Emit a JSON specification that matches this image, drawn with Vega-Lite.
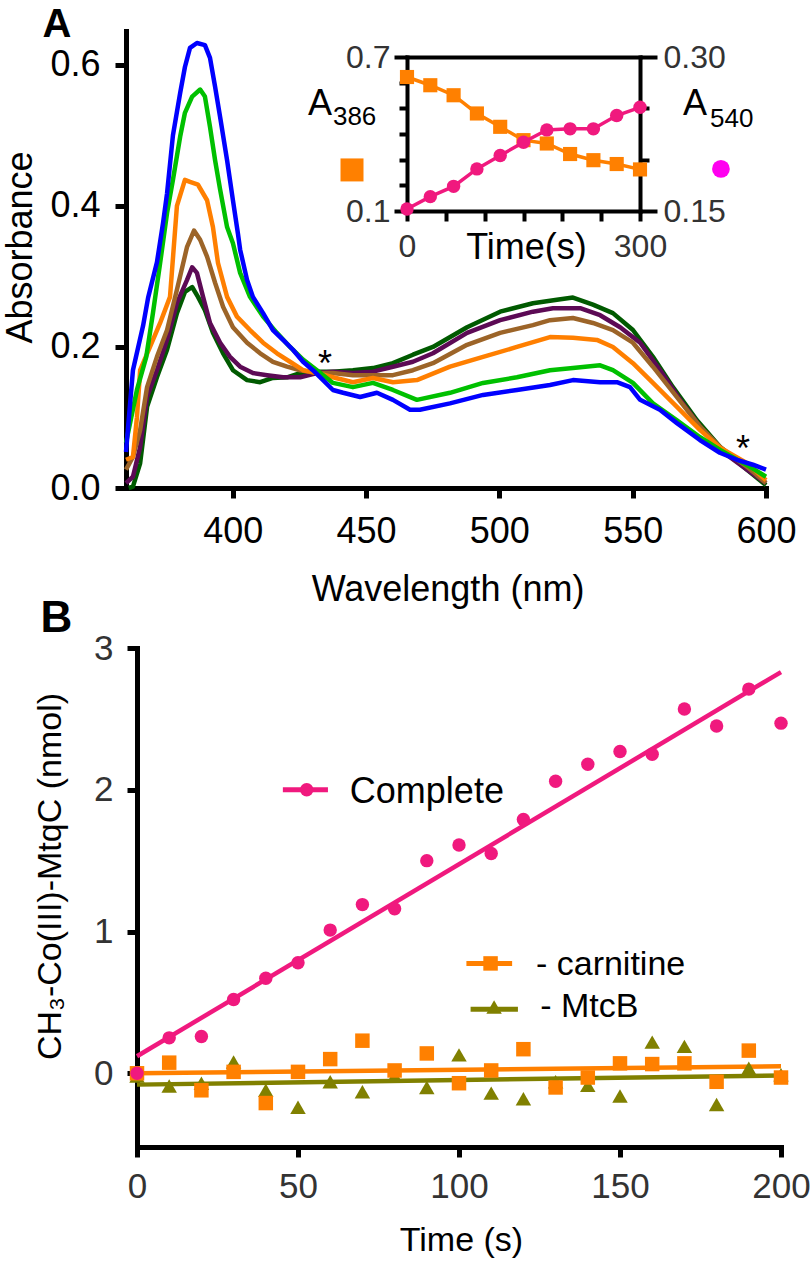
{
"$schema": "https://vega.github.io/schema/vega-lite/v6.json",
"width": 640,
"height": 457,
"autosize": {"type": "none"},
"padding": {"left": 126, "top": 31, "right": 46, "bottom": 776},
"background": "white",
"config": {
  "view": {"stroke": null},
  "font": "Liberation Sans",
  "axis": {"grid": false, "domainColor": "black", "tickColor": "black", "labelFont": "Liberation Sans", "titleFont": "Liberation Sans", "titleFontWeight": "normal", "titleColor": "black", "labelFlush": false, "labelOverlap": false, "labelBound": false, "domainCap": "square"},
  "text": {"font": "Liberation Sans"}
},
"datasets": {
  "spectra": [
    {"s":"dg","w":361,"a":0.0},{"s":"dg","w":362.6,"a":0.002},{"s":"dg","w":365.3,"a":0.035},{"s":"dg","w":367.9,"a":0.115},{"s":"dg","w":371.6,"a":0.157},{"s":"dg","w":375.4,"a":0.196},{"s":"dg","w":379.1,"a":0.248},{"s":"dg","w":382.1,"a":0.278},{"s":"dg","w":384.8,"a":0.285},{"s":"dg","w":387,"a":0.271},{"s":"dg","w":389.6,"a":0.252},{"s":"dg","w":392.6,"a":0.22},{"s":"dg","w":396.4,"a":0.191},{"s":"dg","w":400.1,"a":0.167},{"s":"dg","w":405.4,"a":0.153},{"s":"dg","w":410.3,"a":0.15},{"s":"dg","w":415.1,"a":0.156},{"s":"dg","w":420.4,"a":0.157},{"s":"dg","w":425.3,"a":0.163},{"s":"dg","w":431.6,"a":0.165},{"s":"dg","w":437.6,"a":0.165},{"s":"dg","w":445.1,"a":0.167},{"s":"dg","w":452.6,"a":0.17},{"s":"dg","w":460.1,"a":0.177},{"s":"dg","w":467.6,"a":0.189},{"s":"dg","w":475.1,"a":0.2},{"s":"dg","w":487.9,"a":0.228},{"s":"dg","w":500.3,"a":0.25},{"s":"dg","w":512.6,"a":0.262},{"s":"dg","w":521.6,"a":0.267},{"s":"dg","w":527.6,"a":0.27},{"s":"dg","w":535.1,"a":0.26},{"s":"dg","w":542.6,"a":0.248},{"s":"dg","w":550.1,"a":0.224},{"s":"dg","w":557.6,"a":0.186},{"s":"dg","w":565.1,"a":0.143},{"s":"dg","w":574.1,"a":0.096},{"s":"dg","w":582.8,"a":0.058},{"s":"dg","w":592.9,"a":0.026},{"s":"dg","w":600,"a":0.004},
    {"s":"pu","w":360,"a":0.007},{"s":"pu","w":362.6,"a":0.016},{"s":"pu","w":365.3,"a":0.058},{"s":"pu","w":367.9,"a":0.129},{"s":"pu","w":371.6,"a":0.167},{"s":"pu","w":375.4,"a":0.21},{"s":"pu","w":379.1,"a":0.262},{"s":"pu","w":382.9,"a":0.295},{"s":"pu","w":384.8,"a":0.313},{"s":"pu","w":386.6,"a":0.305},{"s":"pu","w":388.9,"a":0.271},{"s":"pu","w":391.5,"a":0.234},{"s":"pu","w":395.3,"a":0.206},{"s":"pu","w":399,"a":0.186},{"s":"pu","w":402.8,"a":0.172},{"s":"pu","w":407.6,"a":0.163},{"s":"pu","w":412.9,"a":0.16},{"s":"pu","w":418.9,"a":0.157},{"s":"pu","w":425.3,"a":0.157},{"s":"pu","w":431.6,"a":0.163},{"s":"pu","w":437.6,"a":0.165},{"s":"pu","w":445.1,"a":0.163},{"s":"pu","w":452.6,"a":0.165},{"s":"pu","w":460.1,"a":0.172},{"s":"pu","w":467.6,"a":0.179},{"s":"pu","w":475.1,"a":0.191},{"s":"pu","w":487.9,"a":0.22},{"s":"pu","w":500.3,"a":0.238},{"s":"pu","w":512.6,"a":0.25},{"s":"pu","w":520.1,"a":0.255},{"s":"pu","w":530.3,"a":0.255},{"s":"pu","w":537.8,"a":0.245},{"s":"pu","w":545.3,"a":0.228},{"s":"pu","w":552.8,"a":0.206},{"s":"pu","w":560.3,"a":0.167},{"s":"pu","w":567.8,"a":0.125},{"s":"pu","w":575.3,"a":0.087},{"s":"pu","w":582.8,"a":0.054},{"s":"pu","w":592.9,"a":0.026},{"s":"pu","w":600,"a":0.007},
    {"s":"br","w":360,"a":0.026},{"s":"br","w":362.6,"a":0.044},{"s":"br","w":365.3,"a":0.082},{"s":"br","w":367.9,"a":0.143},{"s":"br","w":371.6,"a":0.186},{"s":"br","w":375.4,"a":0.224},{"s":"br","w":379.1,"a":0.281},{"s":"br","w":382.9,"a":0.342},{"s":"br","w":385.5,"a":0.365},{"s":"br","w":387.8,"a":0.352},{"s":"br","w":390.4,"a":0.328},{"s":"br","w":393.4,"a":0.291},{"s":"br","w":396.4,"a":0.257},{"s":"br","w":400.1,"a":0.228},{"s":"br","w":405.4,"a":0.206},{"s":"br","w":410.3,"a":0.191},{"s":"br","w":415.1,"a":0.179},{"s":"br","w":420.4,"a":0.172},{"s":"br","w":425.3,"a":0.167},{"s":"br","w":431.6,"a":0.163},{"s":"br","w":437.6,"a":0.163},{"s":"br","w":445.1,"a":0.16},{"s":"br","w":452.6,"a":0.16},{"s":"br","w":460.1,"a":0.16},{"s":"br","w":467.6,"a":0.167},{"s":"br","w":475.1,"a":0.177},{"s":"br","w":487.9,"a":0.203},{"s":"br","w":500.3,"a":0.22},{"s":"br","w":512.6,"a":0.231},{"s":"br","w":519,"a":0.238},{"s":"br","w":527.6,"a":0.241},{"s":"br","w":535.1,"a":0.234},{"s":"br","w":542.6,"a":0.224},{"s":"br","w":550.1,"a":0.206},{"s":"br","w":557.6,"a":0.172},{"s":"br","w":566.6,"a":0.129},{"s":"br","w":575.3,"a":0.087},{"s":"br","w":582.8,"a":0.058},{"s":"br","w":592.9,"a":0.03},{"s":"br","w":600,"a":0.007},
    {"s":"or","w":360,"a":0.04},{"s":"or","w":362.6,"a":0.044},{"s":"or","w":364.1,"a":0.1},{"s":"or","w":365.3,"a":0.167},{"s":"or","w":369,"a":0.2},{"s":"or","w":372.8,"a":0.234},{"s":"or","w":376.5,"a":0.271},{"s":"or","w":379.1,"a":0.4},{"s":"or","w":382.1,"a":0.437},{"s":"or","w":384,"a":0.434},{"s":"or","w":387,"a":0.43},{"s":"or","w":390.4,"a":0.408},{"s":"or","w":392.6,"a":0.37},{"s":"or","w":394.5,"a":0.319},{"s":"or","w":397.9,"a":0.271},{"s":"or","w":401.6,"a":0.243},{"s":"or","w":406.5,"a":0.224},{"s":"or","w":411.4,"a":0.206},{"s":"or","w":416.6,"a":0.191},{"s":"or","w":421.5,"a":0.179},{"s":"or","w":426.4,"a":0.167},{"s":"or","w":431.6,"a":0.163},{"s":"or","w":437.6,"a":0.157},{"s":"or","w":445.1,"a":0.15},{"s":"or","w":452.6,"a":0.156},{"s":"or","w":460.1,"a":0.15},{"s":"or","w":469.1,"a":0.153},{"s":"or","w":481.5,"a":0.172},{"s":"or","w":493.9,"a":0.186},{"s":"or","w":506.6,"a":0.2},{"s":"or","w":519,"a":0.214},{"s":"or","w":527.6,"a":0.213},{"s":"or","w":536.6,"a":0.21},{"s":"or","w":542.6,"a":0.2},{"s":"or","w":550.1,"a":0.177},{"s":"or","w":557.6,"a":0.149},{"s":"or","w":566.6,"a":0.115},{"s":"or","w":575.3,"a":0.082},{"s":"or","w":582.8,"a":0.057},{"s":"or","w":592.9,"a":0.035},{"s":"or","w":600,"a":0.011},
    {"s":"gr","w":360,"a":0.064},{"s":"gr","w":364.1,"a":0.139},{"s":"gr","w":367.6,"a":0.186},{"s":"gr","w":370.1,"a":0.248},{"s":"gr","w":372.8,"a":0.319},{"s":"gr","w":375.4,"a":0.39},{"s":"gr","w":377.6,"a":0.437},{"s":"gr","w":380.3,"a":0.498},{"s":"gr","w":382.1,"a":0.532},{"s":"gr","w":384.8,"a":0.555},{"s":"gr","w":387.8,"a":0.565},{"s":"gr","w":389.6,"a":0.555},{"s":"gr","w":391.5,"a":0.512},{"s":"gr","w":393.4,"a":0.465},{"s":"gr","w":395.3,"a":0.423},{"s":"gr","w":397.9,"a":0.37},{"s":"gr","w":400.1,"a":0.347},{"s":"gr","w":402.8,"a":0.305},{"s":"gr","w":406.5,"a":0.271},{"s":"gr","w":411.4,"a":0.243},{"s":"gr","w":416.6,"a":0.22},{"s":"gr","w":421.5,"a":0.2},{"s":"gr","w":426.4,"a":0.182},{"s":"gr","w":431.6,"a":0.167},{"s":"gr","w":437.6,"a":0.149},{"s":"gr","w":445.1,"a":0.143},{"s":"gr","w":452.6,"a":0.149},{"s":"gr","w":460.1,"a":0.139},{"s":"gr","w":469.1,"a":0.125},{"s":"gr","w":481.5,"a":0.135},{"s":"gr","w":493.9,"a":0.149},{"s":"gr","w":506.6,"a":0.157},{"s":"gr","w":519,"a":0.167},{"s":"gr","w":527.6,"a":0.17},{"s":"gr","w":537.8,"a":0.174},{"s":"gr","w":542.6,"a":0.167},{"s":"gr","w":550.1,"a":0.149},{"s":"gr","w":557.6,"a":0.12},{"s":"gr","w":566.6,"a":0.096},{"s":"gr","w":575.3,"a":0.072},{"s":"gr","w":582.8,"a":0.054},{"s":"gr","w":594,"a":0.03},{"s":"gr","w":600,"a":0.016},
    {"s":"bl","w":360,"a":0.051},{"s":"bl","w":362.6,"a":0.167},{"s":"bl","w":366.4,"a":0.23},{"s":"bl","w":368.3,"a":0.27},{"s":"bl","w":371.6,"a":0.32},{"s":"bl","w":373.9,"a":0.376},{"s":"bl","w":375.4,"a":0.418},{"s":"bl","w":377.6,"a":0.5},{"s":"bl","w":380.3,"a":0.56},{"s":"bl","w":382.1,"a":0.597},{"s":"bl","w":384,"a":0.624},{"s":"bl","w":386.6,"a":0.631},{"s":"bl","w":389.6,"a":0.628},{"s":"bl","w":391.5,"a":0.61},{"s":"bl","w":393.4,"a":0.569},{"s":"bl","w":395.3,"a":0.526},{"s":"bl","w":397.9,"a":0.465},{"s":"bl","w":400.1,"a":0.408},{"s":"bl","w":402,"a":0.36},{"s":"bl","w":402.8,"a":0.338},{"s":"bl","w":405.4,"a":0.295},{"s":"bl","w":407.6,"a":0.271},{"s":"bl","w":411.4,"a":0.248},{"s":"bl","w":415.1,"a":0.224},{"s":"bl","w":418.9,"a":0.21},{"s":"bl","w":422.6,"a":0.196},{"s":"bl","w":426.4,"a":0.179},{"s":"bl","w":430.1,"a":0.167},{"s":"bl","w":433.9,"a":0.153},{"s":"bl","w":437.6,"a":0.139},{"s":"bl","w":441.4,"a":0.135},{"s":"bl","w":447.8,"a":0.129},{"s":"bl","w":454.1,"a":0.135},{"s":"bl","w":460.1,"a":0.125},{"s":"bl","w":466.5,"a":0.111},{"s":"bl","w":470.2,"a":0.111},{"s":"bl","w":481.5,"a":0.12},{"s":"bl","w":493.9,"a":0.132},{"s":"bl","w":506.6,"a":0.139},{"s":"bl","w":519,"a":0.146},{"s":"bl","w":527.6,"a":0.153},{"s":"bl","w":537.8,"a":0.15},{"s":"bl","w":544.1,"a":0.15},{"s":"bl","w":549,"a":0.143},{"s":"bl","w":552.8,"a":0.125},{"s":"bl","w":560.2,"a":0.111},{"s":"bl","w":566.6,"a":0.092},{"s":"bl","w":575.2,"a":0.068},{"s":"bl","w":582.7,"a":0.05},{"s":"bl","w":589.1,"a":0.04},{"s":"bl","w":595.1,"a":0.033},{"s":"bl","w":600,"a":0.026}
  ],
  "annA": [
    {"k":"panel","label":"A","w":334.1,"a":0.6397},
    {"k":"big","label":"A","w":432.75,"a":0.529},
    {"k":"sub","label":"386","w":437.6,"a":0.515},
    {"k":"big","label":"A","w":573.4,"a":0.529},
    {"k":"sub","label":"540","w":579,"a":0.512},
    {"k":"star","label":"*","w":434.6,"a":0.159},
    {"k":"star","label":"*","w":591.4,"a":0.038},
    {"k":"sq","label":"","w":444.75,"a":0.451},
    {"k":"ci","label":"","w":583.1,"a":0.4525}
  ],
  "inset": [
    {"t":0,"a386":0.622,"a540":0.152},{"t":30,"a386":0.59,"a540":0.164},{"t":60,"a386":0.551,"a540":0.174},{"t":90,"a386":0.48,"a540":0.191},{"t":120,"a386":0.428,"a540":0.204},{"t":150,"a386":0.376,"a540":0.217},{"t":180,"a386":0.363,"a540":0.229},{"t":210,"a386":0.322,"a540":0.23},{"t":240,"a386":0.298,"a540":0.23},{"t":270,"a386":0.283,"a540":0.243},{"t":300,"a386":0.262,"a540":0.251}
  ],
  "bpts": [
    {"g":"- MtcB","t":0,"v":-0.02},{"g":"- MtcB","t":10,"v":-0.09},{"g":"- MtcB","t":20,"v":-0.07},{"g":"- MtcB","t":30,"v":0.08},{"g":"- MtcB","t":40,"v":-0.12},{"g":"- MtcB","t":50,"v":-0.24},{"g":"- MtcB","t":60,"v":-0.06},{"g":"- MtcB","t":70,"v":-0.13},{"g":"- MtcB","t":80,"v":-0.02},{"g":"- MtcB","t":90,"v":-0.1},{"g":"- MtcB","t":100,"v":0.13},{"g":"- MtcB","t":110,"v":-0.14},{"g":"- MtcB","t":120,"v":-0.18},{"g":"- MtcB","t":130,"v":-0.06},{"g":"- MtcB","t":140,"v":-0.085},{"g":"- MtcB","t":150,"v":-0.16},{"g":"- MtcB","t":160,"v":0.22},{"g":"- MtcB","t":170,"v":0.19},{"g":"- MtcB","t":180,"v":-0.22},{"g":"- MtcB","t":190,"v":0.035},{"g":"- MtcB","t":200,"v":-0.01},
    {"g":"- carnitine","t":0,"v":0.0},{"g":"- carnitine","t":10,"v":0.075},{"g":"- carnitine","t":20,"v":-0.12},{"g":"- carnitine","t":30,"v":0.01},{"g":"- carnitine","t":40,"v":-0.21},{"g":"- carnitine","t":50,"v":0.01},{"g":"- carnitine","t":60,"v":0.1},{"g":"- carnitine","t":70,"v":0.23},{"g":"- carnitine","t":80,"v":0.02},{"g":"- carnitine","t":90,"v":0.14},{"g":"- carnitine","t":100,"v":-0.07},{"g":"- carnitine","t":110,"v":0.02},{"g":"- carnitine","t":120,"v":0.17},{"g":"- carnitine","t":130,"v":-0.1},{"g":"- carnitine","t":140,"v":-0.03},{"g":"- carnitine","t":150,"v":0.07},{"g":"- carnitine","t":160,"v":0.065},{"g":"- carnitine","t":170,"v":0.07},{"g":"- carnitine","t":180,"v":-0.06},{"g":"- carnitine","t":190,"v":0.16},{"g":"- carnitine","t":200,"v":-0.03},
    {"g":"Complete","t":0,"v":0.0},{"g":"Complete","t":10,"v":0.25},{"g":"Complete","t":20,"v":0.26},{"g":"Complete","t":30,"v":0.52},{"g":"Complete","t":40,"v":0.67},{"g":"Complete","t":50,"v":0.78},{"g":"Complete","t":60,"v":1.01},{"g":"Complete","t":70,"v":1.19},{"g":"Complete","t":80,"v":1.16},{"g":"Complete","t":90,"v":1.5},{"g":"Complete","t":100,"v":1.61},{"g":"Complete","t":110,"v":1.55},{"g":"Complete","t":120,"v":1.79},{"g":"Complete","t":130,"v":2.06},{"g":"Complete","t":140,"v":2.18},{"g":"Complete","t":150,"v":2.27},{"g":"Complete","t":160,"v":2.25},{"g":"Complete","t":170,"v":2.57},{"g":"Complete","t":180,"v":2.45},{"g":"Complete","t":190,"v":2.71},{"g":"Complete","t":200,"v":2.47}
  ],
  "bfit": [
    {"g":"- MtcB","t":0,"v":-0.08},{"g":"- MtcB","t":200,"v":-0.015},
    {"g":"- carnitine","t":0,"v":0.0},{"g":"- carnitine","t":200,"v":0.05},
    {"g":"Complete","t":0,"v":0.12},{"g":"Complete","t":200,"v":2.83}
  ],
  "bleg": [
    {"g":"Complete","t":45.3,"v":2.0},{"g":"Complete","t":59.3,"v":2.0},
    {"g":"- carnitine","t":102.3,"v":0.775},{"g":"- carnitine","t":116.5,"v":0.775},
    {"g":"- MtcB","t":103.6,"v":0.452},{"g":"- MtcB","t":118.3,"v":0.452}
  ],
  "bmark": [
    {"g":"Complete","t":52.7,"v":2.0},{"g":"- carnitine","t":109.8,"v":0.775},{"g":"- MtcB","t":110.9,"v":0.468}
  ],
  "btext": [
    {"k":"big","label":"Complete","t":66.1,"v":1.905},
    {"k":"small","label":"- carnitine","t":123.9,"v":0.692},
    {"k":"small","label":"- MtcB","t":125.2,"v":0.397},
    {"k":"panel","label":"B","t":-25,"v":3.112}
  ]
},
"resolve": {"scale": {"x": "independent", "y": "independent", "color": "independent", "shape": "independent", "size": "independent"}},
"layer": [
  {
    "encoding": {
      "x": {"field": "w", "type": "quantitative", "scale": {"domain": [360, 600], "nice": false, "zero": false},
            "axis": {"orient": "bottom", "values": [400, 450, 500, 550, 600], "title": "Wavelength (nm)", "titleFontSize": 36, "titleX": 321.5, "titleY": 112, "titleBaseline": "alphabetic", "titleAlign": "center", "labelFontSize": 36, "labelColor": "black", "labelPadding": 16, "tickSize": 10, "tickWidth": 5, "domainWidth": 5}},
      "y": {"field": "a", "type": "quantitative", "scale": {"domain": [0, 0.648], "nice": false, "zero": false},
            "axis": {"orient": "left", "values": [0, 0.2, 0.4, 0.6], "format": ".1f", "title": "Absorbance", "titleFontSize": 36, "titleAngle": 270, "titleX": -95, "titleY": 216, "titleBaseline": "alphabetic", "titleAlign": "center", "labelFontSize": 36, "labelColor": "black", "labelPadding": 15, "tickSize": 11, "tickWidth": 5, "domainWidth": 5}}
    },
    "layer": [
      {"data": {"name": "spectra"}, "mark": {"type": "line", "strokeWidth": 4.5, "strokeJoin": "round"},
       "encoding": {"color": {"field": "s", "type": "nominal", "scale": {"domain": ["dg", "pu", "br", "or", "gr", "bl"], "range": ["#005A00", "#5C0A55", "#9C6428", "#FF7F00", "#00C000", "#0000FF"]}, "legend": null}}},
      {"data": {"name": "annA"}, "transform": [{"filter": "datum.k == 'star'"}], "mark": {"type": "text", "fontSize": 36, "align": "center", "baseline": "alphabetic", "color": "black"}, "encoding": {"text": {"field": "label"}}},
      {"data": {"name": "annA"}, "transform": [{"filter": "datum.k == 'big'"}], "mark": {"type": "text", "fontSize": 36, "align": "center", "baseline": "alphabetic", "color": "black"}, "encoding": {"text": {"field": "label"}}},
      {"data": {"name": "annA"}, "transform": [{"filter": "datum.k == 'sub'"}], "mark": {"type": "text", "fontSize": 26, "align": "left", "baseline": "alphabetic", "color": "black"}, "encoding": {"text": {"field": "label"}}},
      {"data": {"name": "annA"}, "transform": [{"filter": "datum.k == 'panel'"}], "mark": {"type": "text", "fontSize": 40, "fontWeight": "bold", "align": "center", "baseline": "alphabetic", "color": "black"}, "encoding": {"text": {"field": "label"}}},
      {"data": {"name": "annA"}, "transform": [{"filter": "datum.k == 'sq'"}], "mark": {"type": "point", "shape": "square", "filled": true, "opacity": 1, "color": "#FF8000", "size": 529}},
      {"data": {"name": "annA"}, "transform": [{"filter": "datum.k == 'ci'"}], "mark": {"type": "point", "shape": "circle", "filled": true, "opacity": 1, "color": "#FF00F0", "size": 314}}
    ]
  },
  {
    "data": {"name": "inset"},
    "encoding": {
      "x": {"field": "t", "type": "quantitative", "scale": {"domain": [0, 300], "range": [281, 514], "nice": false, "zero": false},
            "axis": {"orient": "bottom", "offset": -277, "values": [0, 50, 100, 150, 200, 250, 300], "labelExpr": "datum.value < 1 || datum.value > 299 ? datum.label : ''", "title": "Time(s)", "titleFontSize": 36, "titleX": 400, "titleY": 47, "titleBaseline": "alphabetic", "titleAlign": "center", "labelFontSize": 32, "labelColor": "#333", "labelPadding": 10, "tickSize": 10, "tickWidth": 4, "domainWidth": 4}},
      "y": {"field": "a386", "type": "quantitative", "scale": {"domain": [0.1, 0.7], "range": [180, 26], "nice": false, "zero": false},
            "axis": {"orient": "left", "offset": -281, "values": [0.1, 0.2, 0.3, 0.4, 0.5, 0.6, 0.7], "format": ".1f", "labelExpr": "datum.value < 0.15 || datum.value > 0.65 ? datum.label : ''", "title": null, "labelFontSize": 32, "labelColor": "#333", "labelPadding": 4, "tickSize": {"condition": {"test": "datum.value < 0.15 || datum.value > 0.65", "value": 13}, "value": 8}, "tickWidth": 4, "domainWidth": 4}}
    },
    "layer": [
      {"mark": {"type": "line", "color": "#FF8000", "strokeWidth": 3.5}},
      {"mark": {"type": "point", "shape": "square", "filled": true, "opacity": 1, "color": "#FF8000", "size": 200}}
    ]
  },
  {
    "data": {"name": "inset"},
    "encoding": {
      "x": {"field": "t", "type": "quantitative", "scale": {"domain": [0, 300], "range": [281, 514], "nice": false, "zero": false},
            "axis": {"orient": "top", "offset": -26, "ticks": false, "labels": false, "title": null, "domainWidth": 4}},
      "y": {"field": "a540", "type": "quantitative", "scale": {"domain": [0.15, 0.3], "range": [180, 26], "nice": false, "zero": false},
            "axis": {"orient": "right", "offset": -126, "values": [0.15, 0.2, 0.25, 0.3], "format": ".2f", "labelExpr": "datum.value < 0.17 || datum.value > 0.28 ? datum.label : ''", "title": null, "labelFontSize": 32, "labelColor": "#333", "labelPadding": 6, "tickSize": {"condition": {"test": "datum.value < 0.17 || datum.value > 0.28", "value": 17}, "value": 9}, "tickWidth": 4, "domainWidth": 4}}
    },
    "layer": [
      {"mark": {"type": "line", "color": "#F0197E", "strokeWidth": 3.5}},
      {"mark": {"type": "point", "shape": "circle", "filled": true, "opacity": 1, "color": "#F0197E", "size": 180}}
    ]
  },
  {
    "encoding": {
      "x": {"field": "t", "type": "quantitative", "scale": {"domain": [0, 200], "range": [11, 655], "nice": false, "zero": false},
            "axis": {"orient": "bottom", "offset": 659, "values": [0, 50, 100, 150, 200], "title": "Time (s)", "titleFontSize": 34, "titleX": 335, "titleY": 103, "titleBaseline": "alphabetic", "titleAlign": "center", "labelFontSize": 35, "labelColor": "#333", "labelPadding": 12, "tickSize": 10, "tickWidth": 5, "domainWidth": 5}},
      "y": {"field": "v", "type": "quantitative", "scale": {"domain": [-0.52, 3], "range": [1116, 617], "nice": false, "zero": false},
            "axis": {"orient": "left", "offset": -11, "values": [0, 1, 2, 3], "title": "CH₃-Co(III)-MtqC (nmol)", "titleFontSize": 34, "titleAngle": 270, "titleX": -77, "titleY": 845, "titleBaseline": "alphabetic", "titleAlign": "center", "labelFontSize": 35, "labelColor": "#333", "labelPadding": 14, "tickSize": 10, "tickWidth": 5, "domainWidth": 5}}
    },
    "layer": [
      {"data": {"name": "bfit"}, "mark": {"type": "line", "strokeWidth": 4.5},
       "encoding": {"color": {"field": "g", "type": "nominal", "scale": {"domain": ["Complete", "- carnitine", "- MtcB"], "range": ["#F0197E", "#FF8000", "#808000"]}, "legend": null}}},
      {"data": {"name": "bpts"}, "mark": {"type": "point", "filled": true, "opacity": 1},
       "encoding": {"color": {"field": "g", "type": "nominal", "legend": null},
                    "shape": {"field": "g", "type": "nominal", "scale": {"domain": ["Complete", "- carnitine", "- MtcB"], "range": ["circle", "square", "triangle-up"]}, "legend": null},
                    "size": {"field": "g", "type": "nominal", "scale": {"domain": ["Complete", "- carnitine", "- MtcB"], "range": [180, 240, 200]}, "legend": null}}},
      {"data": {"name": "bleg"}, "mark": {"type": "line", "strokeWidth": 5},
       "encoding": {"color": {"field": "g", "type": "nominal", "legend": null}}},
      {"data": {"name": "bmark"}, "mark": {"type": "point", "filled": true, "opacity": 1},
       "encoding": {"color": {"field": "g", "type": "nominal", "legend": null},
                    "shape": {"field": "g", "type": "nominal", "legend": null},
                    "size": {"field": "g", "type": "nominal", "legend": null}}},
      {"data": {"name": "btext"}, "transform": [{"filter": "datum.k == 'big'"}], "mark": {"type": "text", "fontSize": 36, "align": "left", "baseline": "alphabetic", "color": "black"}, "encoding": {"text": {"field": "label"}}},
      {"data": {"name": "btext"}, "transform": [{"filter": "datum.k == 'small'"}], "mark": {"type": "text", "fontSize": 34, "align": "left", "baseline": "alphabetic", "color": "black"}, "encoding": {"text": {"field": "label"}}},
      {"data": {"name": "btext"}, "transform": [{"filter": "datum.k == 'panel'"}], "mark": {"type": "text", "fontSize": 44, "fontWeight": "bold", "align": "center", "baseline": "alphabetic", "color": "black"}, "encoding": {"text": {"field": "label"}}}
    ]
  }
]
}
